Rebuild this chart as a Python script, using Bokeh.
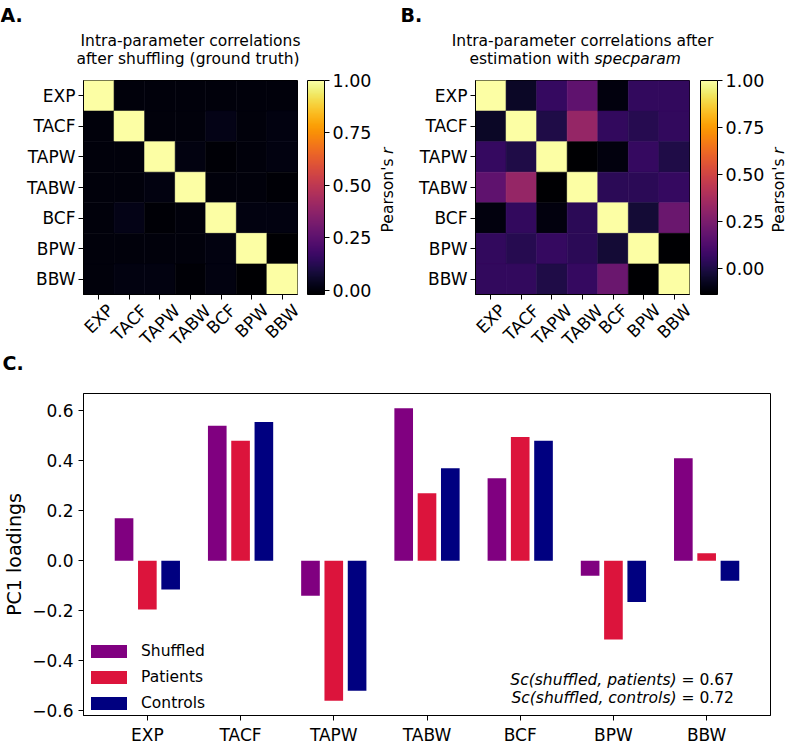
import math
from bokeh.plotting import figure
from bokeh.models import (ColumnDataSource, LinearColorMapper, ColorBar, FixedTicker,
                          PrintfTickFormatter, Label, FactorRange, Range1d, Legend,
                          LegendItem, CustomJSTickFormatter)
from bokeh.core.properties import value
from bokeh.transform import dodge
from bokeh.palettes import Inferno256
from bokeh.layouts import column, row
from bokeh.embed import file_html
from bokeh.resources import INLINE

FONT = "DejaVu Sans"

# ---------------- data ----------------
params = ["EXP", "TACF", "TAPW", "TABW", "BCF", "BPW", "BBW"]

corr_shuffled = [
    [1.00, 0.00, 0.00, 0.00, 0.00, 0.00, 0.00],
    [0.00, 1.00, 0.00, 0.00, 0.02, 0.00, 0.01],
    [0.00, 0.00, 1.00, 0.01, -0.01, 0.00, 0.01],
    [0.00, 0.00, 0.01, 1.00, 0.00, 0.00, -0.01],
    [0.00, 0.02, -0.01, 0.00, 1.00, 0.01, 0.01],
    [0.00, 0.00, 0.00, 0.00, 0.01, 1.00, -0.02],
    [0.00, 0.01, 0.01, -0.01, 0.01, -0.02, 1.00],
]

corr_specparam = [
    [1.00, -0.06, 0.06, 0.17, -0.11, 0.05, 0.05],
    [-0.06, 1.00, 0.00, 0.32, 0.05, 0.02, 0.05],
    [0.06, 0.00, 1.00, -0.14, -0.11, 0.06, 0.00],
    [0.17, 0.32, -0.14, 1.00, 0.03, 0.03, 0.06],
    [-0.11, 0.05, -0.11, 0.03, 1.00, -0.03, 0.20],
    [0.05, 0.02, 0.06, 0.03, -0.03, 1.00, -0.14],
    [0.05, 0.05, 0.00, 0.06, 0.20, -0.14, 1.00],
]

cbar_ticks = [0.0, 0.25, 0.50, 0.75, 1.00]

loadings_shuffled = [0.17, 0.54, -0.14, 0.61, 0.33, -0.06, 0.41]
loadings_patients = [-0.195, 0.48, -0.56, 0.27, 0.495, -0.315, 0.03]
loadings_controls = [-0.115, 0.555, -0.52, 0.37, 0.48, -0.165, -0.08]
loading_ticks = [-0.6, -0.4, -0.2, 0.0, 0.2, 0.4, 0.6]

sc_patients = 0.67
sc_controls = 0.72

# approximate DejaVu Sans advance widths (em), used to place rotated tick labels
CHAR_EM = {"E": 0.632, "X": 0.685, "P": 0.603, "T": 0.611, "A": 0.684, "C": 0.698,
           "F": 0.575, "W": 0.989, "B": 0.686}

# ---------------- layout constants (px) ----------------
FR = 214                   # heatmap frame size
CELL = FR / len(params)
TITLE_H = 70               # title strip height
HM_TOP, HM_BOT = 10, 7     # borders around heatmap frame
HM_H = HM_TOP + FR + HM_BOT
XL_H = 74                  # rotated tick label strip height (also holds "C.")
XL_Y0 = TITLE_H + HM_H     # canvas y of tick strip top
WA, LA, PWA = 400, 83, 24  # panel A: total width, frame left, colour-bar title strip
WB, LB, PWB = 386, 75, 18  # panel B
OFF = 8                    # text strips draw their content this far below their top


def style(p, tick_size):
    p.grid.visible = False
    p.outline_line_color = "black"
    p.outline_line_width = 1
    p.outline_line_alpha = 1
    for ax in p.axis:
        ax.axis_line_color = "black"
        ax.major_tick_line_color = "black"
        ax.major_tick_out = 5
        ax.major_tick_in = 0
        ax.minor_tick_line_color = None
        ax.major_label_text_font = FONT
        ax.major_label_text_font_size = tick_size
        ax.major_label_text_color = "black"
        ax.major_label_standoff = 3
        ax.axis_label_text_font = FONT
        ax.axis_label_text_font_style = "normal"
        ax.axis_label_text_color = "black"


def text_fig(W, H, x_range=None):
    p = figure(frame_width=W, frame_height=H,
               x_range=x_range if x_range is not None else Range1d(0, W),
               y_range=Range1d(0, H), min_border=0,
               x_axis_location=None, y_axis_location=None,
               output_backend="svg", toolbar_location=None, tools="")
    p.grid.visible = False
    p.outline_line_color = None
    p.background_fill_color = None
    p.border_fill_color = None
    return p


def put(p, x, y_local, s, H, size="15.5px", style_="normal", align="left",
        baseline="alphabetic", angle=0.0):
    """y_local: wanted canvas y (downwards) inside the strip."""
    p.text(x=[x], y=[H + OFF - y_local], text=[s], text_font=value(FONT),
           text_font_size=value(size), text_font_style=style_, text_color="black",
           text_align=align, text_baseline=baseline, angle=angle)


def label(p, x, y, s, style_="normal", align="left"):
    p.add_layout(Label(x=x, y=y, x_units="screen", y_units="screen", text=s,
                       text_font=FONT, text_font_size="15.5px", text_font_style=style_,
                       text_color="black", text_align=align, text_baseline="middle"))


def heatmap(matrix, W, frame_left, cb_gap):
    xs, ys, vals = [], [], []
    for i, rname in enumerate(params):
        for j, cname in enumerate(params):
            xs.append(cname)
            ys.append(rname)
            vals.append(matrix[i][j])
    mapper = LinearColorMapper(palette=Inferno256, low=min(vals), high=max(vals))
    p = figure(x_range=FactorRange(factors=params),
               y_range=FactorRange(factors=params[::-1]),
               frame_width=FR, frame_height=FR,
               min_border_left=frame_left, min_border_right=W - frame_left - FR,
               min_border_top=HM_TOP, min_border_bottom=HM_BOT,
               output_backend="svg", toolbar_location=None, tools="")
    p.background_fill_color = None
    src = ColumnDataSource(dict(x=xs, y=ys, v=vals))
    p.rect(x="x", y="y", width=1, height=1, source=src,
           fill_color={"field": "v", "transform": mapper},
           line_color={"field": "v", "transform": mapper}, line_width=0.6)
    style(p, "17px")
    # x axis keeps only its tick marks; its labels are drawn rotated in the strip below
    p.xaxis.major_label_text_color = None
    p.xaxis.major_label_text_font_size = "1px"
    p.xaxis.major_label_standoff = 0
    cb = ColorBar(color_mapper=mapper, ticker=FixedTicker(ticks=cbar_ticks),
                  formatter=PrintfTickFormatter(format="%.2f"),
                  width=17, height=FR, padding=0, margin=0, location=(cb_gap, 0),
                  major_label_text_font=FONT, major_label_text_font_size="17.5px",
                  major_label_text_color="black",
                  major_tick_line_color="black", major_tick_in=0, major_tick_out=5,
                  minor_tick_line_color=None, label_standoff=3,
                  bar_line_color="black", bar_line_width=1,
                  border_line_color=None, background_fill_color=None)
    p.add_layout(cb, "right")
    return p


def tick_strip(W, frame_left):
    """45 degree tick labels, centred under the heatmap columns (matplotlib style)."""
    p = text_fig(W, XL_H, x_range=Range1d(-frame_left / CELL, (W - frame_left) / CELL))
    xs, ys = [], []
    frame_bottom = TITLE_H + HM_TOP + FR
    for k, name in enumerate(params):
        w = sum(CHAR_EM[c] for c in name) * 17
        centre = frame_bottom + 14 + (w + 19) * 0.3535     # canvas y of label centre
        xs.append(k + 0.5)
        ys.append(XL_H + OFF - (centre - XL_Y0))
    p.text(x=xs, y=ys, text=params, text_font=value(FONT),
           text_font_size=value("17px"), text_color="black", text_align="center",
           text_baseline="middle", angle=math.pi / 4)
    return p


def cbar_title(W, x):
    p = text_fig(W, HM_H)
    put(p, x, 156 - TITLE_H, "Pearson's", HM_H, align="right", baseline="middle",
        angle=math.pi / 2)
    put(p, x, 151.4 - TITLE_H, "r", HM_H, style_="italic", align="left",
        baseline="middle", angle=math.pi / 2)
    return p


# ---------------- titles ----------------
tA = text_fig(WA, TITLE_H)
put(tA, 0, 22, "A.", TITLE_H, size="19px", style_="bold")
put(tA, LA + FR / 2, 48.5, "Intra-parameter correlations", TITLE_H, align="center")
put(tA, LA + FR / 2, 66, " after shuffling (ground truth)", TITLE_H, align="center")

tB = text_fig(WB, TITLE_H)
put(tB, 0, 22, "B.", TITLE_H, size="19px", style_="bold")
put(tB, LB + FR / 2, 48.5, "Intra-parameter correlations after", TITLE_H, align="center")
put(tB, LB + 114, 66, "estimation with", TITLE_H, align="right")
put(tB, LB + 119, 66, "specparam", TITLE_H, style_="italic", align="left")

# ---------------- heatmaps ----------------
hA = heatmap(corr_shuffled, WA - PWA, LA, 10)
hB = heatmap(corr_specparam, WB - PWB, LB, 11)
cA = cbar_title(PWA, 11)
cB = cbar_title(PWB, 10)
xA = tick_strip(WA, LA)
xB = tick_strip(WB, LB)
put(xA, 2 / CELL - LA / CELL, 370 - XL_Y0, "C.", XL_H, size="19px", style_="bold")

# ---------------- panel C ----------------
all_load = loadings_shuffled + loadings_patients + loadings_controls
span = max(all_load) - min(all_load)
lo, hi = min(all_load) - 0.05 * span, max(all_load) + 0.05 * span

C_TOP = 393 - (XL_Y0 + XL_H)
CL, CH = 83, 322
srcC = ColumnDataSource(dict(cat=params, shuffled=loadings_shuffled,
                             patients=loadings_patients, controls=loadings_controls))
pC = figure(x_range=FactorRange(factors=params, range_padding=0.185,
                                range_padding_units="absolute"),
            y_range=Range1d(lo, hi),
            frame_width=687, frame_height=CH,
            min_border_left=CL, min_border_right=WA + WB - CL - 687,
            min_border_top=C_TOP, min_border_bottom=30,
            output_backend="svg", toolbar_location=None, tools="")
pC.background_fill_color = None
r1 = pC.vbar(x=dodge("cat", -0.25, range=pC.x_range), top="shuffled", bottom=0, width=0.2,
             source=srcC, fill_color="purple", line_color=None)
r2 = pC.vbar(x=dodge("cat", 0.0, range=pC.x_range), top="patients", bottom=0, width=0.2,
             source=srcC, fill_color="crimson", line_color=None)
r3 = pC.vbar(x=dodge("cat", 0.25, range=pC.x_range), top="controls", bottom=0, width=0.2,
             source=srcC, fill_color="navy", line_color=None)
style(pC, "17px")
pC.yaxis.ticker = FixedTicker(ticks=loading_ticks)
pC.yaxis.formatter = CustomJSTickFormatter(code="""
  const v = Math.abs(tick) < 1e-9 ? 0 : tick;
  return v.toFixed(1).replace('-', '\u2212');
""")
pC.yaxis.axis_label = "PC1 loadings"
pC.yaxis.axis_label_text_font_size = "19px"
pC.yaxis.axis_label_standoff = 4
pC.yaxis.major_label_standoff = 5
pC.xaxis.major_label_standoff = 4

legend = Legend(items=[LegendItem(label="Shuffled", renderers=[r1]),
                       LegendItem(label="Patients", renderers=[r2]),
                       LegendItem(label="Controls", renderers=[r3])],
                location=(3, 2), border_line_color=None, background_fill_alpha=0,
                glyph_width=45, glyph_height=16, label_height=20, spacing=6,
                padding=10, label_standoff=10,
                label_text_font=FONT, label_text_font_size="15.5px",
                label_text_color="black")
pC.add_layout(legend, "center")

label(pC, 593, 36, "Sc(shuffled, patients)", style_="italic", align="right")
label(pC, 598, 36, "= %.2f" % sc_patients)
label(pC, 593, 18, "Sc(shuffled, controls)", style_="italic", align="right")
label(pC, 598, 18, "= %.2f" % sc_controls)

layout = column(row(tA, tB), row(hA, cA, hB, cB), row(xA, xB), pC)
open("out.html", "w").write(file_html(layout, INLINE))
